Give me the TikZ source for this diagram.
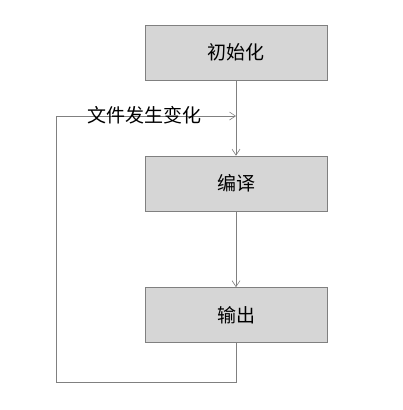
\documentclass[tikz,border=0pt]{standalone}
\usepackage{fontspec}
\newfontfamily\cjk{Noto Sans CJK SC}
\usepackage{tikz}
\definecolor{white}{rgb}{1.0, 1.0, 1.0}
\definecolor{lgray}{RGB}{214,214,214}
\definecolor{dgray}{RGB}{128,128,128}
\usetikzlibrary{arrows.meta}
\pgfdeclarelayer{edgelayer}
\pgfdeclarelayer{nodelayer}
\pgfsetlayers{edgelayer,nodelayer,main}
\tikzstyle{stage}=[rectangle,fill=lgray,draw=dgray,semithick,minimum width=182pt,minimum height=55pt,inner sep=0pt,font=\cjk\fontsize{19}{19}\selectfont]
\tikzstyle{flow}=[dgray,semithick,-{Straight Barb[length=6pt,width=8pt]}]

\begin{document}
\begin{tikzpicture}[x=1pt,y=-1pt]
        \useasboundingbox (0, 0) rectangle (403, 410);
        \begin{pgfonlayer}{nodelayer}
            \node [style = stage] (init) at (236, 52.5) {初始化};
            \node [style = stage] (build) at (236, 183.5) {编译};
            \node [style = stage] (out) at (236, 315) {输出};

            \coordinate (join) at (236, 116);
            \coordinate (bl) at (56, 382);
            \coordinate (tl) at (56, 116);
            \node [font=\cjk\fontsize{19}{19}\selectfont, inner sep=0pt] (change) at (144, 115) {文件发生变化};
        \end{pgfonlayer}

        \begin{pgfonlayer}{edgelayer}
            \draw [style = flow] (init) to (build);
            \draw [style = flow] (build) to (out);

            \draw [dgray, semithick] (out.south) |- (bl) -- (tl);
            \draw [style = flow] (tl) to (join);
        \end{pgfonlayer}
    \end{tikzpicture}
\end{document}
